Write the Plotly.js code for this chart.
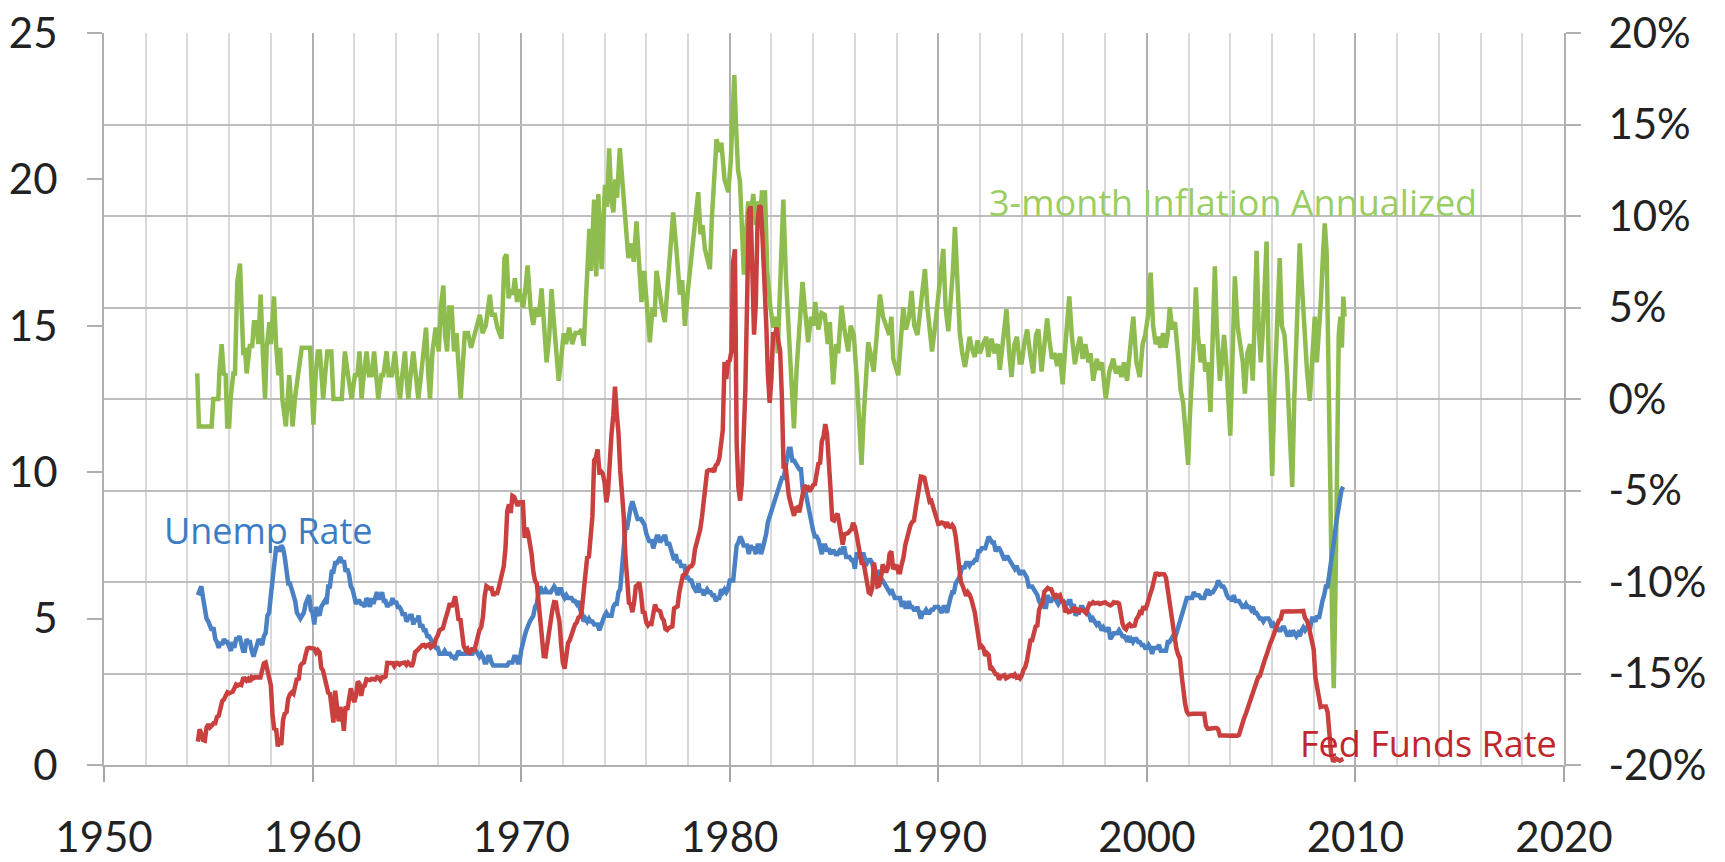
<!DOCTYPE html>
<html>
<head>
<meta charset="utf-8">
<script src="https://cdn.plot.ly/plotly-3.0.1.min.js"></script>
<style>html,body{margin:0;padding:0;background:#fff;}#chart{width:1725px;height:862px;}</style>
</head>
<body>
<div id="chart"></div>
<script>
// Monthly series, starting July 1954
const startYear = 1954.5;
const fedFunds = [
0.80,1.22,1.07,0.85,0.83,1.28,
1.39,1.29,1.35,1.43,1.43,1.64,1.68,1.96,2.18,2.24,2.35,2.48,
2.45,2.50,2.50,2.62,2.75,2.71,2.75,2.73,2.95,2.96,2.88,2.94,
2.84,3.00,2.96,3.00,3.00,3.00,2.99,3.24,3.47,3.50,3.28,2.98,
2.72,1.67,1.20,1.26,0.63,0.93,0.68,1.53,1.76,1.80,2.27,2.42,
2.48,2.43,2.80,2.96,2.90,3.39,3.47,3.50,3.76,3.98,4.00,3.99,
3.99,3.97,3.84,3.92,3.85,3.32,3.23,2.98,2.60,2.47,2.44,1.98,
1.45,2.54,2.02,1.49,1.98,1.73,1.17,2.00,1.88,2.26,2.62,2.33,
2.15,2.37,2.85,2.78,2.36,2.68,2.71,2.93,2.90,2.90,2.94,2.93,
2.92,3.00,2.98,2.90,3.00,2.99,3.02,3.49,3.48,3.50,3.48,3.38,
3.48,3.48,3.43,3.47,3.50,3.50,3.42,3.50,3.45,3.36,3.52,3.85,
3.90,3.98,4.04,4.09,4.10,4.04,4.09,4.12,4.01,4.08,4.10,4.32,
4.42,4.60,4.65,4.67,4.90,5.17,5.30,5.53,5.40,5.53,5.76,5.40,
4.94,5.00,4.53,4.05,3.94,3.98,3.79,3.90,3.99,3.88,4.13,4.51,
4.61,4.71,5.05,5.76,6.11,6.07,6.02,6.03,5.78,5.91,5.82,6.02,
6.30,6.64,6.79,7.41,8.67,8.90,8.61,9.19,9.15,9.00,8.85,8.97,
8.98,8.98,7.76,8.10,7.94,7.60,7.21,6.61,6.29,6.20,5.60,4.90,
4.14,3.72,3.71,4.16,4.63,4.91,5.31,5.56,5.55,5.20,4.91,4.14,
3.50,3.29,3.83,4.17,4.27,4.46,4.55,4.80,4.87,5.04,5.06,5.33,
5.94,6.58,7.09,7.12,7.84,8.49,10.40,10.50,10.78,10.01,10.03,9.95,
9.65,8.97,9.35,10.51,11.31,11.93,12.92,12.01,11.34,10.06,9.45,8.53,
7.13,6.24,5.54,5.49,5.22,5.55,6.10,6.14,6.24,5.82,5.22,5.20,
4.87,4.77,4.84,4.82,5.29,5.48,5.31,5.29,5.25,5.03,4.95,4.65,
4.61,4.68,4.69,4.73,5.35,5.39,5.42,5.90,6.14,6.47,6.51,6.56,
6.70,6.78,6.79,6.89,7.36,7.60,7.81,8.04,8.45,8.96,9.76,10.03,
10.07,10.06,10.09,10.01,10.24,10.29,10.47,10.94,11.43,13.77,13.18,13.78,
13.82,14.13,17.19,17.61,10.98,9.47,9.03,9.61,10.87,12.81,15.85,18.90,
19.08,15.93,14.70,15.72,18.52,19.10,19.04,17.82,15.87,15.08,13.31,12.37,
13.22,14.78,14.68,14.94,14.45,14.15,12.59,10.12,10.31,9.71,9.20,8.95,
8.68,8.51,8.77,8.80,8.63,8.98,9.37,9.56,9.45,9.48,9.34,9.47,
9.56,9.59,9.91,10.29,10.32,11.06,11.23,11.64,11.30,9.99,9.43,8.38,
8.35,8.50,8.58,8.27,7.97,7.53,7.88,7.90,7.92,7.99,8.05,8.27,
8.14,7.86,7.48,6.99,6.85,6.92,6.56,6.17,5.89,5.85,6.04,6.91,
6.43,6.10,6.13,6.37,6.85,6.73,6.58,6.73,7.22,7.29,6.69,6.77,
6.83,6.58,6.58,6.87,7.09,7.51,7.75,8.01,8.19,8.30,8.35,8.76,
9.12,9.36,9.85,9.84,9.81,9.53,9.24,8.99,9.02,8.84,8.55,8.45,
8.23,8.24,8.28,8.26,8.18,8.29,8.15,8.13,8.20,8.11,7.81,7.31,
6.91,6.25,6.12,5.91,5.78,5.90,5.82,5.66,5.45,5.21,4.81,4.43,
4.03,4.06,3.98,3.73,3.82,3.76,3.25,3.30,3.22,3.10,3.09,2.92,
3.02,3.03,3.07,2.96,3.00,3.04,3.06,3.03,3.09,2.99,3.02,2.96,
3.05,3.25,3.34,3.56,4.01,4.25,4.26,4.47,4.73,4.76,5.29,5.45,
5.53,5.92,5.98,6.05,6.01,6.00,5.85,5.74,5.80,5.76,5.80,5.60,
5.56,5.22,5.31,5.22,5.24,5.27,5.40,5.22,5.30,5.24,5.31,5.29,
5.25,5.19,5.39,5.51,5.50,5.56,5.52,5.54,5.54,5.50,5.52,5.50,
5.56,5.51,5.49,5.45,5.49,5.56,5.54,5.55,5.51,5.07,4.83,4.68,
4.63,4.76,4.81,4.74,4.74,4.76,4.99,5.07,5.22,5.20,5.42,5.30,
5.45,5.73,5.85,6.02,6.27,6.53,6.54,6.50,6.52,6.51,6.51,6.40,
5.98,5.49,5.31,4.80,4.21,3.97,3.77,3.65,3.07,2.49,2.09,1.82,
1.73,1.74,1.73,1.75,1.75,1.75,1.73,1.74,1.75,1.75,1.34,1.24,
1.24,1.26,1.25,1.26,1.26,1.22,1.01,1.03,1.01,1.01,1.00,0.98,
1.00,1.01,1.00,1.00,1.00,1.03,1.26,1.43,1.61,1.76,1.93,2.16,
2.28,2.50,2.63,2.79,3.00,3.04,3.26,3.50,3.62,3.78,4.00,4.16,
4.29,4.49,4.59,4.79,4.94,4.99,5.24,5.25,5.25,5.25,5.25,5.24,
5.25,5.26,5.26,5.25,5.25,5.25,5.26,5.02,4.94,4.76,4.49,4.24,
3.94,2.98,2.61,2.28,1.98,2.00,2.01,2.00,1.81,0.97,0.39,0.16,
0.15,0.22,0.18,0.15,0.18,0.21
];
const unempRate = [
5.8,6.0,6.1,5.7,5.3,5.0,
4.9,4.7,4.6,4.7,4.3,4.2,4.0,4.2,4.1,4.3,4.2,4.2,
4.0,3.9,4.2,4.0,4.3,4.3,4.4,4.1,3.9,3.9,4.3,4.2,
4.2,3.9,3.7,3.9,4.1,4.3,4.2,4.1,4.4,4.5,5.1,5.2,
5.8,6.4,6.7,7.4,7.4,7.3,7.5,7.4,7.1,6.7,6.2,6.2,
6.0,5.9,5.6,5.2,5.1,5.0,5.1,5.2,5.5,5.7,5.8,5.3,
5.2,4.8,5.4,5.2,5.1,5.4,5.5,5.6,5.5,6.1,6.1,6.6,
6.6,6.9,6.9,7.0,7.1,6.9,7.0,6.6,6.7,6.5,6.1,6.0,
5.8,5.5,5.6,5.6,5.5,5.5,5.4,5.7,5.6,5.4,5.7,5.5,
5.7,5.9,5.7,5.7,5.9,5.6,5.6,5.4,5.5,5.5,5.7,5.5,
5.6,5.4,5.4,5.3,5.1,5.2,4.9,5.0,5.1,5.1,4.8,5.0,
4.9,5.1,4.7,4.8,4.6,4.6,4.4,4.4,4.3,4.2,4.1,4.0,
4.0,3.8,3.8,3.8,3.9,3.8,3.8,3.8,3.7,3.7,3.6,3.8,
3.9,3.8,3.8,3.8,3.8,3.9,3.8,3.8,3.8,4.0,3.9,3.8,
3.7,3.8,3.7,3.5,3.5,3.7,3.7,3.5,3.4,3.4,3.4,3.4,
3.4,3.4,3.4,3.4,3.4,3.5,3.5,3.5,3.7,3.7,3.5,3.5,
3.9,4.2,4.4,4.6,4.8,4.9,5.0,5.1,5.4,5.5,5.9,6.1,
5.9,5.9,6.0,5.9,5.9,5.9,6.0,6.1,6.0,5.8,6.0,6.0,
5.8,5.7,5.8,5.7,5.7,5.7,5.6,5.6,5.5,5.6,5.3,5.2,
4.9,5.0,4.9,5.0,4.9,4.9,4.8,4.8,4.8,4.6,4.8,4.9,
5.1,5.2,5.1,5.1,5.1,5.4,5.5,5.5,5.9,6.0,6.6,7.2,
8.1,8.1,8.6,8.8,9.0,8.8,8.6,8.4,8.4,8.4,8.3,8.2,
7.9,7.7,7.6,7.7,7.4,7.6,7.8,7.8,7.6,7.7,7.8,7.8,
7.5,7.6,7.4,7.2,7.0,7.2,6.9,7.0,6.8,6.8,6.8,6.4,
6.4,6.3,6.3,6.1,6.0,5.9,6.2,5.9,6.0,5.8,5.9,6.0,
5.9,5.9,5.8,5.8,5.6,5.7,5.7,6.0,5.9,6.0,5.9,6.0,
6.3,6.3,6.3,6.9,7.5,7.6,7.8,7.7,7.5,7.5,7.5,7.2,
7.5,7.4,7.4,7.2,7.5,7.5,7.2,7.4,7.6,7.9,8.3,8.5,
8.6,8.9,9.0,9.3,9.4,9.6,9.8,9.8,10.1,10.4,10.8,10.8,
10.4,10.4,10.3,10.2,10.1,10.1,9.4,9.5,9.2,8.8,8.5,8.3,
8.0,7.8,7.8,7.7,7.4,7.2,7.5,7.5,7.3,7.4,7.2,7.3,
7.3,7.2,7.2,7.3,7.2,7.4,7.4,7.1,7.1,7.1,7.0,7.0,
6.7,7.2,7.2,7.1,7.2,7.2,7.0,6.9,7.0,7.0,6.9,6.6,
6.6,6.6,6.6,6.3,6.3,6.2,6.1,6.0,5.9,6.0,5.8,5.7,
5.7,5.7,5.7,5.4,5.6,5.4,5.4,5.6,5.4,5.4,5.3,5.3,
5.4,5.2,5.0,5.2,5.2,5.3,5.2,5.2,5.3,5.3,5.4,5.4,
5.4,5.3,5.2,5.4,5.4,5.2,5.5,5.7,5.9,5.9,6.2,6.3,
6.4,6.6,6.8,6.7,6.9,6.9,6.8,6.9,6.9,7.0,7.0,7.3,
7.3,7.4,7.4,7.4,7.6,7.8,7.7,7.6,7.6,7.3,7.4,7.4,
7.3,7.1,7.0,7.1,7.1,7.0,6.9,6.8,6.7,6.8,6.6,6.5,
6.6,6.6,6.5,6.4,6.1,6.1,6.1,6.0,5.9,5.8,5.6,5.5,
5.6,5.4,5.4,5.8,5.6,5.6,5.7,5.7,5.6,5.5,5.6,5.6,
5.6,5.5,5.5,5.6,5.6,5.3,5.5,5.1,5.2,5.2,5.4,5.4,
5.3,5.2,5.2,5.1,4.9,5.0,4.9,4.8,4.9,4.7,4.6,4.7,
4.6,4.6,4.7,4.3,4.4,4.5,4.5,4.5,4.6,4.5,4.4,4.4,
4.3,4.4,4.2,4.3,4.2,4.3,4.3,4.2,4.2,4.1,4.1,4.0,
4.0,4.1,4.0,3.8,4.0,4.0,4.0,4.1,3.9,3.9,3.9,3.9,
4.2,4.2,4.3,4.4,4.3,4.5,4.6,4.9,5.0,5.3,5.5,5.7,
5.7,5.7,5.7,5.9,5.8,5.8,5.8,5.7,5.7,5.7,5.9,6.0,
5.8,5.9,5.9,6.0,6.1,6.3,6.2,6.1,6.1,6.0,5.8,5.7,
5.7,5.6,5.8,5.6,5.6,5.6,5.5,5.4,5.4,5.5,5.4,5.4,
5.3,5.4,5.2,5.2,5.1,5.0,5.0,4.9,5.0,5.0,5.0,4.9,
4.7,4.8,4.7,4.7,4.6,4.6,4.7,4.7,4.5,4.4,4.5,4.4,
4.6,4.5,4.4,4.5,4.4,4.6,4.7,4.6,4.7,4.7,4.7,5.0,
5.0,4.9,5.1,5.0,5.4,5.6,5.8,6.1,6.1,6.5,6.8,7.3,
7.8,8.3,8.7,9.0,9.4,9.5
];
// 3-month annualized inflation, [year, percent]
const inflationPoints = [
[1954.47,1.4],[1954.55,-1.5],[1954.9,-1.5],[1955.16,-1.5],[1955.24,0],[1955.48,0],[1955.53,1.4],[1955.64,3.0],[1955.75,1.3],[1955.83,1.4],[1955.91,-1.5],[1956.0,-1.5],[1956.07,0],[1956.2,1.4],[1956.28,1.4],[1956.39,6.4],[1956.52,7.4],[1956.6,5.5],[1956.68,2.4],[1956.76,2.8],[1956.84,1.4],
[1957.0,3.0],[1957.1,2.8],[1957.19,4.2],[1957.3,4.2],[1957.4,3.0],[1957.51,5.7],[1957.6,3.0],[1957.72,0],[1957.8,2.8],[1957.93,4.2],[1958.0,3.0],[1958.07,4.2],[1958.15,5.6],[1958.25,3.0],[1958.36,1.3],[1958.45,2.8],[1958.55,0],[1958.72,-1.5],[1958.8,0],[1958.88,1.3],[1958.96,0],[1959.04,-1.5],[1959.15,0],[1959.3,1.4],[1959.48,2.8],[1959.88,2.8],[1959.96,0],
[1960.04,-1.4],[1960.15,1.4],[1960.25,2.6],[1960.35,2.6],[1960.43,1.3],[1960.51,0],[1960.6,1.3],[1960.71,2.6],[1960.9,2.6],[1961.0,0],[1961.4,0],[1961.47,1.3],[1961.55,2.6],[1961.7,1.3],[1961.87,0],[1962.03,1.3],[1962.15,1.3],[1962.25,2.6],[1962.35,0],[1962.45,1.3],[1962.59,2.6],[1962.7,1.3],[1962.83,1.3],[1962.95,2.6],[1963.07,1.3],[1963.15,0],[1963.3,1.3],[1963.39,1.3],[1963.55,2.6],[1963.65,1.3],[1963.8,1.3],[1963.95,2.6],[1964.05,1.3],[1964.19,0],[1964.3,1.3],[1964.43,2.6],[1964.5,1.3],[1964.59,0],[1964.7,1.3],[1964.83,2.6],[1964.95,1.3],
[1965.07,0],[1965.2,1.3],[1965.3,2.6],[1965.44,3.9],[1965.55,1.3],[1965.63,0],[1965.75,2.6],[1965.9,3.9],[1966.05,2.6],[1966.15,5.0],[1966.27,6.2],[1966.35,3.5],[1966.45,2.6],[1966.55,5.0],[1966.67,5.0],[1966.78,2.6],[1966.9,3.6],[1967.0,1.3],[1967.1,0],[1967.3,3.6],[1967.45,3.6],[1967.6,2.8],[1967.78,3.6],[1968.02,4.6],[1968.15,3.6],[1968.3,4.0],[1968.5,5.7],[1968.6,4.6],[1968.74,4.6],[1968.86,3.9],[1969.06,3.3],[1969.2,7.7],[1969.3,7.9],[1969.4,5.5],[1969.5,6.0],[1969.6,5.7],[1969.7,6.6],[1969.8,5.3],[1969.9,6.0],
[1970.0,5.5],[1970.1,5.0],[1970.2,6.0],[1970.31,7.3],[1970.45,5.0],[1970.58,4.05],[1970.7,5.0],[1970.85,4.5],[1970.98,6.05],[1971.1,3.5],[1971.22,2.0],[1971.35,3.5],[1971.46,6.0],[1971.55,4.5],[1971.65,2.8],[1971.8,1.0],[1971.9,2.0],[1972.04,3.6],[1972.15,3.0],[1972.3,3.9],[1972.45,3.0],[1972.6,3.6],[1972.75,3.6],[1972.9,3.8],[1973.0,2.9],[1973.1,5.0],[1973.27,9.3],[1973.35,7.0],[1973.5,10.9],[1973.6,6.7],[1973.7,11.2],[1973.86,7.1],[1974.02,11.7],[1974.12,10.5],[1974.22,13.7],[1974.32,11.0],[1974.42,10.2],[1974.52,12.0],[1974.6,11.0],[1974.73,13.7],[1974.85,12.0],[1974.97,10.4],
[1975.14,7.7],[1975.3,8.5],[1975.4,7.5],[1975.53,9.7],[1975.65,7.0],[1975.77,5.3],[1975.9,7.0],[1976.05,5.0],[1976.17,3.1],[1976.3,5.0],[1976.4,4.5],[1976.49,7.0],[1976.6,6.0],[1976.75,5.0],[1976.89,4.2],[1977.0,6.0],[1977.15,8.0],[1977.29,10.2],[1977.45,8.1],[1977.61,5.7],[1977.72,6.5],[1977.85,4.0],[1978.0,6.0],[1978.15,7.5],[1978.3,9.5],[1978.49,11.3],[1978.6,9.0],[1978.7,9.5],[1978.81,8.2],[1979.05,7.1],[1979.15,10.0],[1979.25,12.5],[1979.37,14.2],[1979.5,13.5],[1979.6,14.0],[1979.75,12.0],[1979.93,11.3],
[1980.05,13.0],[1980.15,15.5],[1980.22,17.7],[1980.3,15.0],[1980.4,12.5],[1980.49,11.9],[1980.6,9.0],[1980.68,6.8],[1980.78,9.0],[1980.89,10.8],[1981.0,10.0],[1981.13,11.2],[1981.25,9.5],[1981.35,10.8],[1981.45,9.8],[1981.55,11.4],[1981.62,10.5],[1981.69,11.4],[1981.8,7.0],[1981.95,5.0],[1982.09,3.9],[1982.2,4.5],[1982.3,2.5],[1982.4,6.0],[1982.5,9.0],[1982.57,10.9],[1982.7,6.5],[1982.85,3.0],[1983.0,0.5],[1983.08,-1.6],[1983.2,1.5],[1983.35,4.0],[1983.49,6.4],[1983.6,5.0],[1983.76,3.1],[1983.9,4.5],[1984.0,4.0],[1984.1,5.3],[1984.25,3.8],[1984.4,4.7],[1984.56,4.6],[1984.7,3.0],[1984.8,4.2],[1984.96,0.8],
[1985.1,3.0],[1985.2,2.5],[1985.36,5.1],[1985.5,3.8],[1985.68,2.6],[1985.8,4.0],[1985.95,3.5],[1986.1,1.0],[1986.2,-1.0],[1986.32,-3.6],[1986.42,-1.0],[1986.55,1.5],[1986.64,3.1],[1986.75,2.5],[1986.9,1.5],[1987.05,3.5],[1987.2,5.7],[1987.35,4.5],[1987.5,4.0],[1987.65,3.5],[1987.75,4.5],[1987.84,2.2],[1988.08,1.3],[1988.2,3.5],[1988.32,5.0],[1988.45,3.8],[1988.6,4.5],[1988.72,5.9],[1988.85,4.0],[1989.0,3.5],[1989.1,4.5],[1989.25,5.5],[1989.36,7.1],[1989.48,5.0],[1989.6,3.5],[1989.7,2.6],[1989.85,4.0],
[1990.0,5.5],[1990.1,7.0],[1990.24,8.2],[1990.35,5.0],[1990.48,3.7],[1990.6,5.5],[1990.7,7.0],[1990.8,9.4],[1990.9,7.0],[1991.03,3.6],[1991.15,2.5],[1991.28,1.75],[1991.4,2.6],[1991.5,3.4],[1991.6,2.8],[1991.75,2.3],[1991.88,3.2],[1992.0,2.5],[1992.15,3.0],[1992.3,3.4],[1992.4,2.3],[1992.55,3.3],[1992.7,2.5],[1992.85,3.0],[1992.95,1.6],[1993.1,3.0],[1993.27,4.9],[1993.4,2.5],[1993.51,1.2],[1993.65,3.0],[1993.77,3.4],[1993.9,2.0],[1994.0,2.0],[1994.12,3.0],[1994.26,3.8],[1994.4,2.5],[1994.55,1.4],[1994.68,3.5],[1994.8,3.8],[1994.95,1.5],
[1995.1,3.0],[1995.22,4.4],[1995.33,3.2],[1995.45,2.2],[1995.58,2.5],[1995.7,1.8],[1995.83,2.5],[1995.96,0.8],[1996.1,3.0],[1996.28,5.6],[1996.4,3.5],[1996.55,1.9],[1996.68,2.8],[1996.8,3.4],[1996.92,2.2],[1997.05,3.0],[1997.2,2.0],[1997.3,2.5],[1997.43,1.0],[1997.6,2.2],[1997.72,1.6],[1997.85,2.0],[1998.03,0.0],[1998.2,1.5],[1998.39,2.2],[1998.52,1.4],[1998.65,1.8],[1998.78,1.2],[1998.9,2.0],[1999.05,1.0],[1999.2,2.8],[1999.35,4.5],[1999.5,2.0],[1999.66,1.2],[1999.8,3.0],[1999.92,3.5],
[2000.05,4.5],[2000.18,6.9],[2000.3,4.0],[2000.42,3.0],[2000.55,3.4],[2000.65,2.8],[2000.78,3.6],[2000.9,2.8],[2001.0,3.5],[2001.1,5.0],[2001.22,3.8],[2001.35,4.2],[2001.5,2.3],[2001.62,0.5],[2001.74,-0.2],[2001.85,-1.5],[2001.98,-3.6],[2002.06,-1.0],[2002.14,0.6],[2002.25,3.0],[2002.35,6.1],[2002.45,3.5],[2002.58,2.0],[2002.7,3.0],[2002.8,1.5],[2002.92,2.0],[2003.05,-0.7],[2003.15,3.0],[2003.26,7.25],[2003.35,4.0],[2003.5,1.0],[2003.6,2.0],[2003.7,3.5],[2003.82,1.8],[2004.0,-2.0],[2004.1,2.0],[2004.22,6.7],[2004.35,4.0],[2004.5,3.0],[2004.6,2.0],[2004.7,0.3],[2004.82,2.5],[2004.95,3.0],
[2005.08,1.0],[2005.17,4.5],[2005.26,8.1],[2005.36,4.0],[2005.46,2.0],[2005.55,3.5],[2005.63,6.0],[2005.74,8.6],[2005.84,2.0],[2006.01,-4.2],[2006.12,0.5],[2006.25,4.5],[2006.37,7.7],[2006.47,4.0],[2006.6,3.5],[2006.72,1.5],[2006.85,-2.0],[2006.97,-4.8],[2007.07,0.0],[2007.2,5.0],[2007.33,8.5],[2007.42,6.5],[2007.55,3.5],[2007.68,1.5],[2007.81,-0.1],[2007.92,2.5],[2008.05,4.5],[2008.15,2.0],[2008.25,3.5],[2008.35,5.5],[2008.45,8.0],[2008.53,9.6],[2008.62,8.0],[2008.7,3.0],[2008.8,-5.0],[2008.88,-12.0],[2008.96,-15.8],[2009.05,-10.0],[2009.12,-3.0],[2009.2,3.5],[2009.28,4.5],[2009.35,2.8],[2009.42,5.6],[2009.48,4.5]
];
const leftTicks = [0,5,10,15,20,25];
const rightTicks = [-20,-15,-10,-5,0,5,10,15,20];
const rightTickText = ['-20%','-15%','-10%','-5%','0%','5%','10%','15%','20%'];
const labels = {unemp:'Unemp Rate', infl:'3-month Inflation Annualized', fed:'Fed Funds Rate'};

const monthX = (arr) => arr.map((_, i) => startYear + i / 12);
const FONT = 'Lato, "Open Sans", "Noto Sans", sans-serif';
const LABEL_FONT = '"Open Sans", "Noto Sans", sans-serif';
const GREEN = '#8fbc4e', BLUE = '#4a80c4', RED = '#c9403f';

const traces = [
  {x: inflationPoints.map(p => p[0]), y: inflationPoints.map(p => p[1]), yaxis: 'y', type: 'scatter', mode: 'lines',
   line: {color: GREEN, width: 4.5}, hoverinfo: 'skip'},
  {x: monthX(unempRate), y: unempRate, yaxis: 'y2', type: 'scatter', mode: 'lines',
   line: {color: BLUE, width: 4.5}, hoverinfo: 'skip'},
  {x: monthX(fedFunds), y: fedFunds, yaxis: 'y2', type: 'scatter', mode: 'lines',
   line: {color: RED, width: 4.5}, hoverinfo: 'skip'}
];

const tickFont = {family: FONT, size: 42, color: '#222222'};
const layout = {
  width: 1725, height: 862,
  margin: {l: 104, r: 161, t: 33, b: 97, pad: 0},
  paper_bgcolor: '#ffffff', plot_bgcolor: '#ffffff',
  showlegend: false,
  font: {family: FONT, color: '#222222'},
  xaxis: {
    range: [1950, 2020], tickmode: 'linear', tick0: 1950, dtick: 10,
    ticks: 'outside', ticklen: 15, tickwidth: 2, tickcolor: '#a6a6a6',
    showgrid: true, gridcolor: '#b0b0b0', gridwidth: 2,
    minor: {tickmode: 'linear', tick0: 1950, dtick: 2, showgrid: true, gridcolor: '#d9d9d9', gridwidth: 2, ticks: ''},
    showline: true, linecolor: '#b0b0b0', linewidth: 2, zeroline: false,
    tickfont: tickFont, ticklabelstandoff: 20, fixedrange: true
  },
  yaxis: {
    range: [-20, 20], side: 'right', tickmode: 'array', tickvals: rightTicks, ticktext: rightTickText,
    ticks: 'outside', ticklen: 15, tickwidth: 2, tickcolor: '#b0b0b0',
    showgrid: true, gridcolor: '#bdbdbd', gridwidth: 2,
    showline: true, linecolor: '#b0b0b0', linewidth: 2, zeroline: false,
    tickfont: tickFont, ticklabelstandoff: 19
  },
  yaxis2: {
    range: [0, 25], overlaying: 'y', side: 'left', tickmode: 'array', tickvals: leftTicks,
    ticks: 'outside', ticklen: 15, tickwidth: 2, tickcolor: '#b0b0b0',
    showgrid: false, showline: true, linecolor: '#b0b0b0', linewidth: 2, zeroline: false,
    tickfont: tickFont, ticklabelstandoff: 21
  },
  annotations: [
    {text: labels.unemp, xref: 'x', yref: 'y2', x: 1952.8, y: 8.0, xanchor: 'left', yanchor: 'middle',
     showarrow: false, font: {family: LABEL_FONT, size: 36, color: '#3d7cc4'}},
    {text: labels.infl, xref: 'x', yref: 'y2', x: 1992.35, y: 19.2, xanchor: 'left', yanchor: 'middle',
     showarrow: false, font: {family: LABEL_FONT, size: 36, color: '#9acd62'}},
    {text: labels.fed, xref: 'x', yref: 'y2', x: 2007.25, y: 0.72, xanchor: 'left', yanchor: 'middle',
     showarrow: false, font: {family: LABEL_FONT, size: 36, color: '#c0272d'}}
  ]
};

Plotly.newPlot('chart', traces, layout, {displayModeBar: false, staticPlot: true});
</script>
</body>
</html>
